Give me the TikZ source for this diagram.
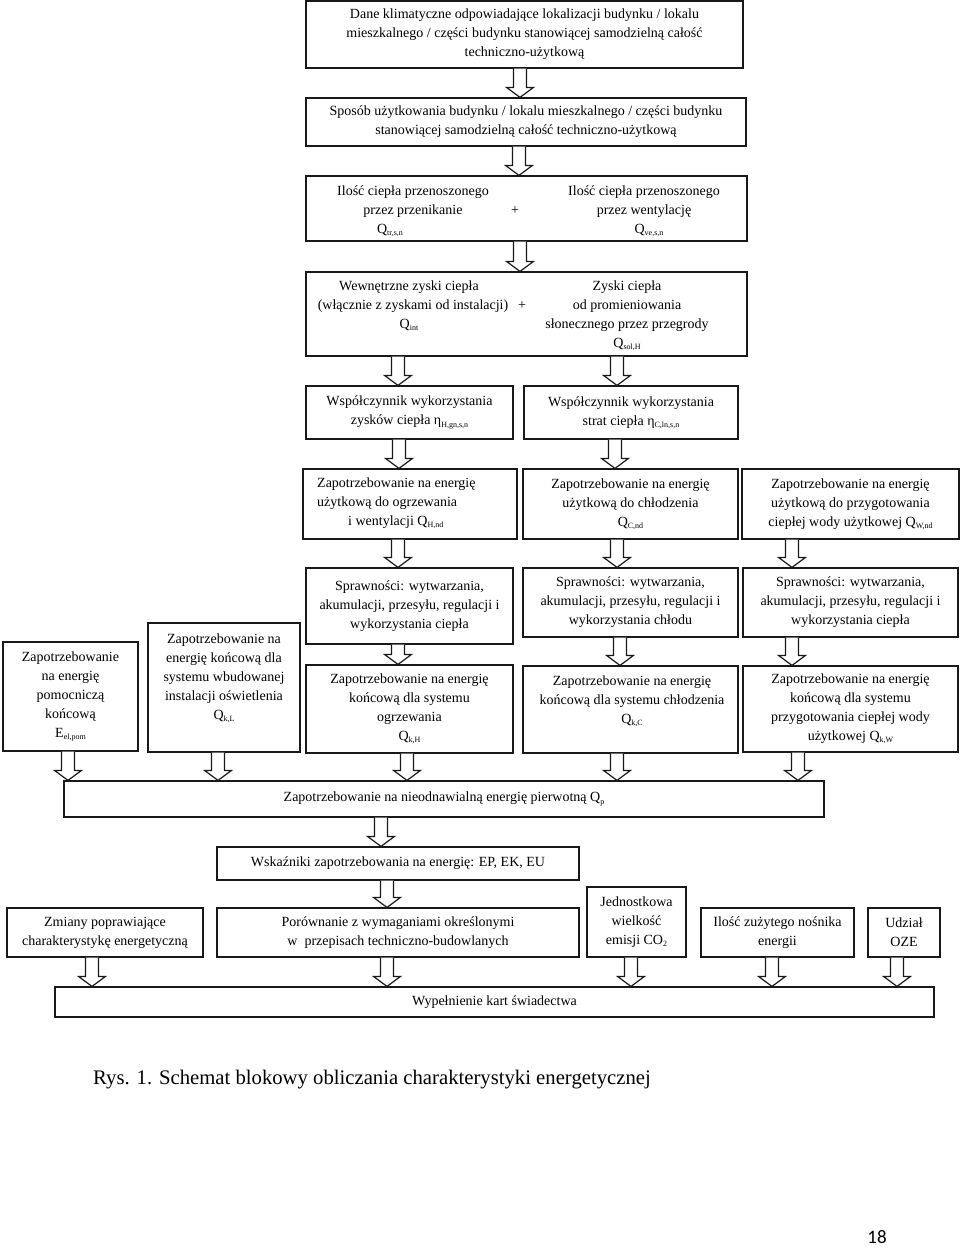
\documentclass[tikz,border=0pt]{standalone}
\usepackage{fontspec}
\setmainfont{Liberation Serif}
\newfontfamily\pgnum{Carlito}
\usetikzlibrary{calc}
\newcommand\sbx[1]{\raisebox{-2.2pt}{\fontsize{8}{8}\selectfont #1}}
\newcommand\barrow[3]{%
  \draw[barr] let \p1=(#1.south), \p2=(#2.north) in
   ({#3pt-6.5pt},\y1) -- ({#3pt-6.5pt},{\y2+10pt}) -- ({#3pt-13.5pt},{\y2+10pt})
   -- ({#3pt},\y2) -- ({#3pt+13.5pt},{\y2+10pt}) -- ({#3pt+6.5pt},{\y2+10pt})
   -- ({#3pt+6.5pt},\y1);}
\begin{document}
\begin{tikzpicture}[x=1pt,y=-1pt,
  every node/.style={font=\fontsize{14}{19}\selectfont, inner sep=0pt},
  box/.style={draw=black!90, line width=1.2pt, align=center},
  txt/.style={align=center},
  barr/.style={draw=black!90, line width=1.2pt, fill=white, line join=miter}]
\useasboundingbox (0,0) rectangle (960,1253);
\fill[white] (0,0) rectangle (960,1253);

% row 1-2
\node[box, minimum width=437pt, minimum height=67pt] (b1) at (524.5,34.5)
 {Dane klimatyczne odpowiadające lokalizacji budynku / lokalu\\mieszkalnego / części budynku stanowiącej samodzielną całość\\techniczno-użytkową};
\node[box, minimum width=440pt, minimum height=48pt] (b2) at (526,122)
 {Sposób użytkowania budynku / lokalu mieszkalnego / części budynku\\stanowiącej samodzielną całość techniczno-użytkową};

% row 3
\node[box, minimum width=441pt, minimum height=65pt] (b3) at (526.5,208.5) {};
\node[txt] (t3l) at (413,211) {Ilość ciepła przenoszonego\\przez przenikanie\\\hspace*{-46pt}Q\sbx{tr,s,n}};
\node (t3p) at (515,211) {+};
\node[txt] (t3r) at (644,211) {Ilość ciepła przenoszonego\\przez wentylację\\\hspace*{10pt}Q\sbx{ve,s,n}};

% row 4
\node[box, minimum width=441pt, minimum height=84pt] (b4) at (526.5,314) {};
\node[txt] (t4l) at (409,306) {Wewnętrzne zyski ciepła\\\hspace*{8pt}(włącznie z zyskami od instalacji)\\Q\sbx{int}};
\node (t4p) at (522,306) {+};
\node[txt] (t4r) at (627,316) {Zyski ciepła\\od promieniowania\\słonecznego przez przegrody\\Q\sbx{sol,H}};

% row 5
\node[box, minimum width=207pt, minimum height=53pt] (b5a) at (409.5,412.5)
 {Współczynnik wykorzystania\\zysków ciepła η\sbx{H,gn,s,n}};
\node[box, minimum width=214pt, minimum height=53pt] (b5b) at (631,412.5)
 {Współczynnik wykorzystania\\strat ciepła η\sbx{C,ln,s,n}};

% row 6
\node[box, minimum width=214pt, minimum height=70pt] (b6a) at (410,504) {};
\node[align=left, anchor=west] (t6a) at (317,503) {Zapotrzebowanie na energię\\użytkową do ogrzewania\\\hspace*{31pt}i wentylacji Q\sbx{H,nd}};
\node[box, minimum width=215pt, minimum height=70pt] (b6b) at (630.5,504)
 {Zapotrzebowanie na energię\\użytkową do chłodzenia\\Q\sbx{C,nd}};
\node[box, minimum width=217pt, minimum height=70pt] (b6c) at (850.5,504)
 {Zapotrzebowanie na energię\\użytkową do przygotowania\\ciepłej wody użytkowej Q\sbx{W,nd}};

% row 7
\node[box, minimum width=207pt, minimum height=76pt] (s7a) at (409.5,606)
 {Sprawności: wytwarzania,\\akumulacji, przesyłu, regulacji i\\wykorzystania ciepła};
\node[box, minimum width=215pt, minimum height=69pt] (s7b) at (630.5,602.5)
 {Sprawności: wytwarzania,\\akumulacji, przesyłu, regulacji i\\wykorzystania chłodu};
\node[box, minimum width=215pt, minimum height=69pt] (s7c) at (850.5,602.5)
 {Sprawności: wytwarzania,\\akumulacji, przesyłu, regulacji i\\wykorzystania ciepła};

% row 8
\node[box, minimum width=135pt, minimum height=109pt] (eel) at (70.5,696.5)
 {Zapotrzebowanie\\na energię\\pomocniczą\\końcową\\E\sbx{el,pom}};
\node[box, minimum width=152pt, minimum height=129pt] (qkl) at (224,687.5) {};
\node[txt] (tkl) at (224,678) {Zapotrzebowanie na\\energię końcową dla\\systemu wbudowanej\\instalacji oświetlenia\\Q\sbx{k,L}};
\node[box, minimum width=207pt, minimum height=88pt] (qkh) at (409.5,709)
 {Zapotrzebowanie na energię\\końcową dla systemu\\ogrzewania\\Q\sbx{k,H}};
\node[box, minimum width=215pt, minimum height=87pt] (qkc) at (630.5,709.5) {};
\node[txt] (tkc) at (632,701.5) {Zapotrzebowanie na energię\\końcową dla systemu chłodzenia\\Q\sbx{k,C}};
\node[box, minimum width=215pt, minimum height=86pt] (qkw) at (850.5,709)
 {Zapotrzebowanie na energię\\końcową dla systemu\\przygotowania ciepłej wody\\użytkowej Q\sbx{k,W}};

% lower part
\node[box, minimum width=760pt, minimum height=36pt] (qp) at (444,799)
 {Zapotrzebowanie na nieodnawialną energię pierwotną Q\sbx{p}};
\node[box, minimum width=362pt, minimum height=33pt] (wsk) at (398,863.5)
 {Wskaźniki zapotrzebowania na energię: EP, EK, EU};
\node[box, minimum width=196pt, minimum height=49pt] (zm) at (105,932.5)
 {Zmiany poprawiające\\charakterystykę energetyczną};
\node[box, minimum width=362pt, minimum height=49pt] (por) at (398,932.5)
 {Porównanie z wymaganiami określonymi\\w\ \ przepisach techniczno-budowlanych};
\node[box, minimum width=99pt, minimum height=70pt] (jed) at (636.5,922)
 {Jednostkowa\\wielkość\\emisji CO\sbx{2}};
\node[box, minimum width=153pt, minimum height=49pt] (il) at (777.5,932.5)
 {Ilość zużytego nośnika\\energii};
\node[box, minimum width=72pt, minimum height=49pt] (ud) at (904,932.5)
 {Udział\\OZE};
\node[box, minimum width=879pt, minimum height=30pt] (wyp) at (494.5,1002)
 {Wypełnienie kart świadectwa};

% caption and page number
\node[font=\fontsize{20.7}{24}\selectfont] (cap) at (372,1080)
 {Rys. 1. Schemat blokowy obliczania charakterystyki energetycznej};
\node[font=\fontsize{19}{22}\pgnum] (pg) at (877,1237) {18};

% arrows
\barrow{b1}{b2}{520}
\barrow{b2}{b3}{519}
\barrow{b3}{b4}{520}
\barrow{b4}{b5a}{398}
\barrow{b4}{b5b}{617}
\barrow{b5a}{b6a}{399}
\barrow{b5b}{b6b}{615}
\barrow{b6a}{s7a}{398}
\barrow{b6b}{s7b}{617}
\barrow{b6c}{s7c}{792}
\barrow{s7a}{qkh}{398}
\barrow{s7b}{qkc}{620}
\barrow{s7c}{qkw}{792}
\barrow{eel}{qp}{68}
\barrow{qkl}{qp}{218}
\barrow{qkh}{qp}{407}
\barrow{qkc}{qp}{617}
\barrow{qkw}{qp}{798}
\barrow{qp}{wsk}{381}
\barrow{wsk}{por}{387}
\barrow{zm}{wyp}{92}
\barrow{por}{wyp}{387}
\barrow{jed}{wyp}{631}
\barrow{il}{wyp}{772}
\barrow{ud}{wyp}{897}
\end{tikzpicture}
\end{document}
